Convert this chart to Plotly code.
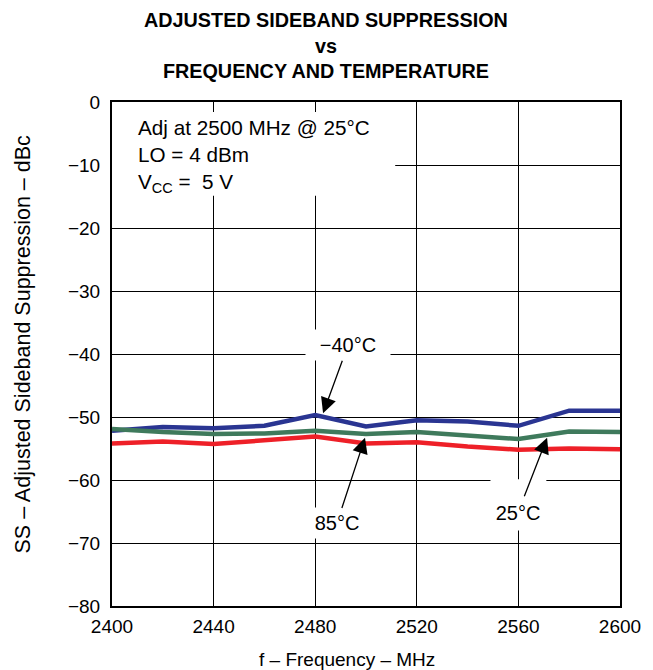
import plotly.graph_objects as go

freq = [2400, 2420, 2440, 2460, 2480, 2500, 2520, 2540, 2560, 2580, 2600]
ss_m40 = [-52.2, -51.6, -51.8, -51.4, -49.7, -51.5, -50.5, -50.7, -51.4, -49.0, -49.0]
ss_25 = [-51.9, -52.4, -52.7, -52.6, -52.2, -52.7, -52.4, -52.9, -53.5, -52.3, -52.4]
ss_85 = [-54.2, -53.9, -54.3, -53.7, -53.1, -54.2, -54.0, -54.7, -55.2, -55.0, -55.1]

x_ticks = [2400, 2440, 2480, 2520, 2560, 2600]
y_ticks = [0, -10, -20, -30, -40, -50, -60, -70, -80]

FONT = "Arial, Liberation Sans, sans-serif"

fig = go.Figure()
fig.add_trace(go.Scatter(x=freq, y=ss_m40, mode="lines", name="-40°C",
                         line=dict(color="#2a3592", width=4.5)))
fig.add_trace(go.Scatter(x=freq, y=ss_85, mode="lines", name="85°C",
                         line=dict(color="#ee2028", width=4.5)))
fig.add_trace(go.Scatter(x=freq, y=ss_25, mode="lines", name="25°C",
                         line=dict(color="#3f7a5c", width=4.5)))

# white boxes behind texts (cover gridlines only)
fig.add_shape(type="rect", xref="x", yref="y", x0=2400, x1=2511.5, y0=-1.6, y1=-14.9,
              fillcolor="white", line=dict(width=0), layer="between")
fig.add_shape(type="rect", xref="x", yref="y", x0=2549, x1=2571, y0=-59.9, y1=-68.0,
              fillcolor="white", line=dict(width=0), layer="between")

fig.add_annotation(x=2400, y=-1.8, xref="x", yref="y", xanchor="left", yanchor="top",
                   xshift=24, yshift=-1, align="left", showarrow=False,
                   text="Adj at 2500 MHz @ 25°C<br>LO = 4 dBm<br>V<sub>CC</sub> =  5 V",
                   font=dict(family=FONT, size=20.7, color="black"))

# curve labels with arrows
fig.add_annotation(x=2483.1, y=-49.4, ax=2492.9, ay=-38.6, axref="x", ayref="y",
                   text="\u221240°C", showarrow=True, arrowhead=2, arrowsize=2.4,
                   arrowwidth=1.3, arrowcolor="black",
                   bgcolor="white", width=84, height=30, borderpad=0,
                   font=dict(family=FONT, size=20, color="black"))
fig.add_annotation(x=2499.6, y=-53.3, ax=2488.5, ay=-66.9, axref="x", ayref="y",
                   text="85°C", showarrow=True, arrowhead=2, arrowsize=2.4,
                   arrowwidth=1.3, arrowcolor="black",
                   bgcolor="white", width=60, height=30, borderpad=0,
                   font=dict(family=FONT, size=20, color="black"))
fig.add_annotation(x=2571.3, y=-53.3, ax=2559.8, ay=-65.2, axref="x", ayref="y",
                   text="25°C", showarrow=True, arrowhead=2, arrowsize=2.4,
                   arrowwidth=1.3, arrowcolor="black",
                   width=60, height=32, borderpad=0,
                   font=dict(family=FONT, size=20, color="black"))

# title
fig.add_annotation(xref="paper", yref="paper", x=0.4203, y=1, xanchor="center",
                   yanchor="top", yshift=95, showarrow=False,
                   text="<b>ADJUSTED SIDEBAND SUPPRESSION<br>vs<br>FREQUENCY AND TEMPERATURE</b>",
                   font=dict(family=FONT, size=19.8, color="black"))

# axis titles
fig.add_annotation(xref="paper", yref="paper", x=0.4626, y=0, xanchor="center",
                   yanchor="middle", yshift=-53,
                   text="f \u2013 Frequency \u2013 MHz", showarrow=False,
                   font=dict(family=FONT, size=19, color="black"))
fig.add_annotation(xref="paper", yref="paper", x=0, y=0.5188, xanchor="center",
                   yanchor="middle", xshift=-89,
                   text="SS \u2013 Adjusted Sideband Suppression \u2013 dBc", showarrow=False,
                   textangle=-90, font=dict(family=FONT, size=21.5, color="black"))

fig.update_layout(
    width=653, height=670,
    margin=dict(l=104, r=41, t=94, b=72),
    paper_bgcolor="white", plot_bgcolor="white",
    showlegend=False,
    font=dict(family=FONT, size=19, color="black"),
)
fig.update_xaxes(range=[2400, 2600], tickvals=x_ticks, ticktext=[str(v) for v in x_ticks],
                 showgrid=True, gridcolor="black", gridwidth=1,
                 showline=True, linecolor="black", linewidth=2, mirror=True,
                 zeroline=False, ticks="", ticklabelstandoff=2,
                 tickfont=dict(family=FONT, size=19, color="black"))
fig.update_yaxes(range=[-80, 0], tickvals=y_ticks,
                 ticktext=["0" if v == 0 else "\u2212" + str(-v) for v in y_ticks],
                 showgrid=True, gridcolor="black", gridwidth=1,
                 showline=True, linecolor="black", linewidth=2, mirror=True,
                 zeroline=False, ticks="", ticklabelstandoff=6,
                 tickfont=dict(family=FONT, size=19, color="black"))

fig.write_html("out.html")
